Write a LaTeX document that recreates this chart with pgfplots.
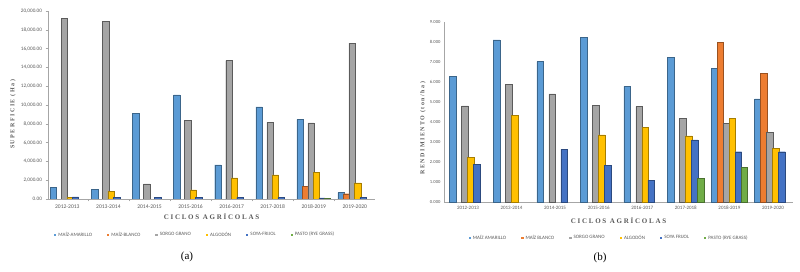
\documentclass[border=0pt]{standalone}
\usepackage{pgfplots}
\pgfplotsset{compat=1.18}
\usepackage{fontspec}
\setmainfont{Liberation Serif}
\newfontfamily\lbl{Carlito}
\newfontfamily\spaced[LetterSpace=25]{Liberation Serif}
\definecolor{cMA}{HTML}{5B9BD5}
\definecolor{cMB}{HTML}{ED7D31}
\definecolor{cSG}{HTML}{A5A5A5}
\definecolor{cAL}{HTML}{FFC000}
\definecolor{cSF}{HTML}{4472C4}
\definecolor{cPA}{HTML}{70AD47}
\definecolor{txt}{HTML}{595959}
\definecolor{axl}{HTML}{A6A6A6}
\pgfplotsset{
  common/.style={
    scale only axis, enlargelimits=false,
    xtick={0,...,7},
    xticklabels={2012-2013,2013-2014,2014-2015,2015-2016,2016-2017,2017-2018,2018-2019,2019-2020},
    axis x line*=bottom, axis y line*=left,
    axis line style={-,draw=axl,line width=0.7pt},
    tick style={draw=axl,line width=0.5pt},
    /pgf/number format/assume math mode=true,
    scaled y ticks=false,
    ymin=0,
    legend columns=6,
    legend style={draw=none,fill=none,anchor=center,
      font=\lbl\fontsize{5}{6}\selectfont\color{txt},
      /tikz/every even column/.append style={column sep=13pt},
      inner sep=0pt},
    legend cell align=left,
    every axis x label/.style={at={(rel axis cs:0.5,0)},yshift=-18pt,anchor=center},
  },
  sqleg/.style={legend image code/.code={\fill[##1,draw=none] (0pt,-1.1pt) rectangle (2.3pt,1.2pt);}},
  sMA/.style={fill=cMA,draw=cMA!65!black,line width=0.45pt},
  sMB/.style={fill=cMB,draw=cMB!65!black,line width=0.45pt},
  sSG/.style={fill=cSG,draw=cSG!55!black,line width=0.45pt},
  sAL/.style={fill=cAL,draw=cAL!65!black,line width=0.45pt},
  sSF/.style={fill=cSF,draw=cSF!65!black,line width=0.45pt},
  sPA/.style={fill=cPA,draw=cPA!65!black,line width=0.45pt},
}
\begin{document}
\begin{tikzpicture}
\useasboundingbox (0,0) rectangle (800pt,-272pt);
% ---------------- (a)
\begin{axis}[common,
  ybar=-0.8pt, bar width=6.3pt, sqleg,
  at={(48pt,-199pt)}, anchor=south west,
  width=327pt, height=188pt,
  xmin=-0.47, xmax=7.49, ymax=20000,
  ytick={0,2000,...,20000},
  yticklabel style={font=\lbl\fontsize{5.2}{6}\selectfont\color{txt}},
  yticklabel={\pgfmathprintnumber[fixed,fixed zerofill,precision=2,1000 sep={,}]{\tick}},
  xticklabel style={font=\lbl\fontsize{5.6}{6}\selectfont\color{txt},yshift=0.5pt},
  major x tick style={draw=none},
  minor xtick={0.5,1.5,...,6.5},
  minor tick length=2.5pt,
  major tick length=2.5pt,
  tick align=outside,
  xlabel={\spaced\bfseries\fontsize{7}{8}\selectfont\color{txt}CICLOS AGRÍCOLAS},
  ylabel={\spaced\bfseries\fontsize{6}{7}\selectfont\color{txt}SUPERFICIE (Ha)},
  every axis y label/.style={at={(rel axis cs:0,0.45)},xshift=-35pt,rotate=90,anchor=center},
  legend style={at={(0.45,-0.19)}},
]
\addplot[sMA] coordinates {(0,1210) (1,1000) (2,9110) (3,11070) (4,3630) (5,9790) (6,8470) (7,680)};
\addplot[sMB] coordinates {(6,1350) (7,560)};
\addplot[sSG] coordinates {(0,19250) (1,18900) (2,1600) (3,8330) (4,14730) (5,8150) (6,8110) (7,16580)};
\addplot[sAL] coordinates {(0,150) (1,820) (3,960) (4,2240) (5,2560) (6,2850) (7,1710)};
\addplot[sSF] coordinates {(0,230) (1,180) (2,150) (3,200) (4,180) (5,180) (6,120) (7,150)};
\addplot[sPA] coordinates {(6,100)};
\legend{MAÍZ-AMARILLO,MAÍZ-BLANCO,SORGO GRANO,ALGODÓN,SOYA-FRIJOL,PASTO (RYE GRASS)}
\end{axis}
% ---------------- (b)
\begin{axis}[common,
  ybar=-0.6pt, bar width=6.6pt, sqleg,
  at={(444pt,-202.3pt)}, anchor=south west,
  width=349pt, height=180.6pt,
  xmin=-0.55, xmax=7.46, ymax=9,
  ytick={0,1,...,9},
  yticklabel style={font=\lbl\fontsize{4.6}{5}\selectfont\color{txt}},
  yticklabel={\pgfmathprintnumber[fixed,fixed zerofill,precision=3]{\tick}},
  xticklabel style={font=\lbl\fontsize{5}{6}\selectfont\color{txt},yshift=-0.5pt},
  major tick length=0pt,
  xlabel={\spaced\bfseries\fontsize{7}{8}\selectfont\color{txt}CICLOS AGRÍCOLAS},
  ylabel={\spaced\bfseries\fontsize{6}{7}\selectfont\color{txt}RENDIMIENTO (ton/ha)},
  every axis y label/.style={at={(rel axis cs:0,0.41)},xshift=-21pt,rotate=90,anchor=center},
  legend style={at={(0.473,-0.198)}},
]
\addplot[sMA] coordinates {(0,6.26) (1,8.09) (2,7.01) (3,8.21) (4,5.78) (5,7.24) (6,6.66) (7,5.15)};
\addplot[sMB] coordinates {(6,7.97) (7,6.43)};
\addplot[sSG] coordinates {(0,4.80) (1,5.86) (2,5.40) (3,4.82) (4,4.77) (5,4.19) (6,3.94) (7,3.47)};
\addplot[sAL] coordinates {(0,2.23) (1,4.35) (3,3.36) (4,3.72) (5,3.31) (6,4.19) (7,2.67)};
\addplot[sSF] coordinates {(0,1.88) (2,2.64) (3,1.83) (4,1.10) (5,3.11) (6,2.52) (7,2.52)};
\addplot[sPA] coordinates {(5,1.18) (6,1.73)};
\legend{MAÍZ AMARILLO,MAÍZ BLANCO,SORGO GRANO,ALGODÓN,SOYA FRIJOL,PASTO (RYE GRASS)}
\end{axis}
\node[font=\fontsize{11}{12}\selectfont] at (187pt,-257pt) {(a)};
\node[font=\fontsize{11}{12}\selectfont] at (600pt,-258pt) {(b)};
\end{tikzpicture}
\end{document}
